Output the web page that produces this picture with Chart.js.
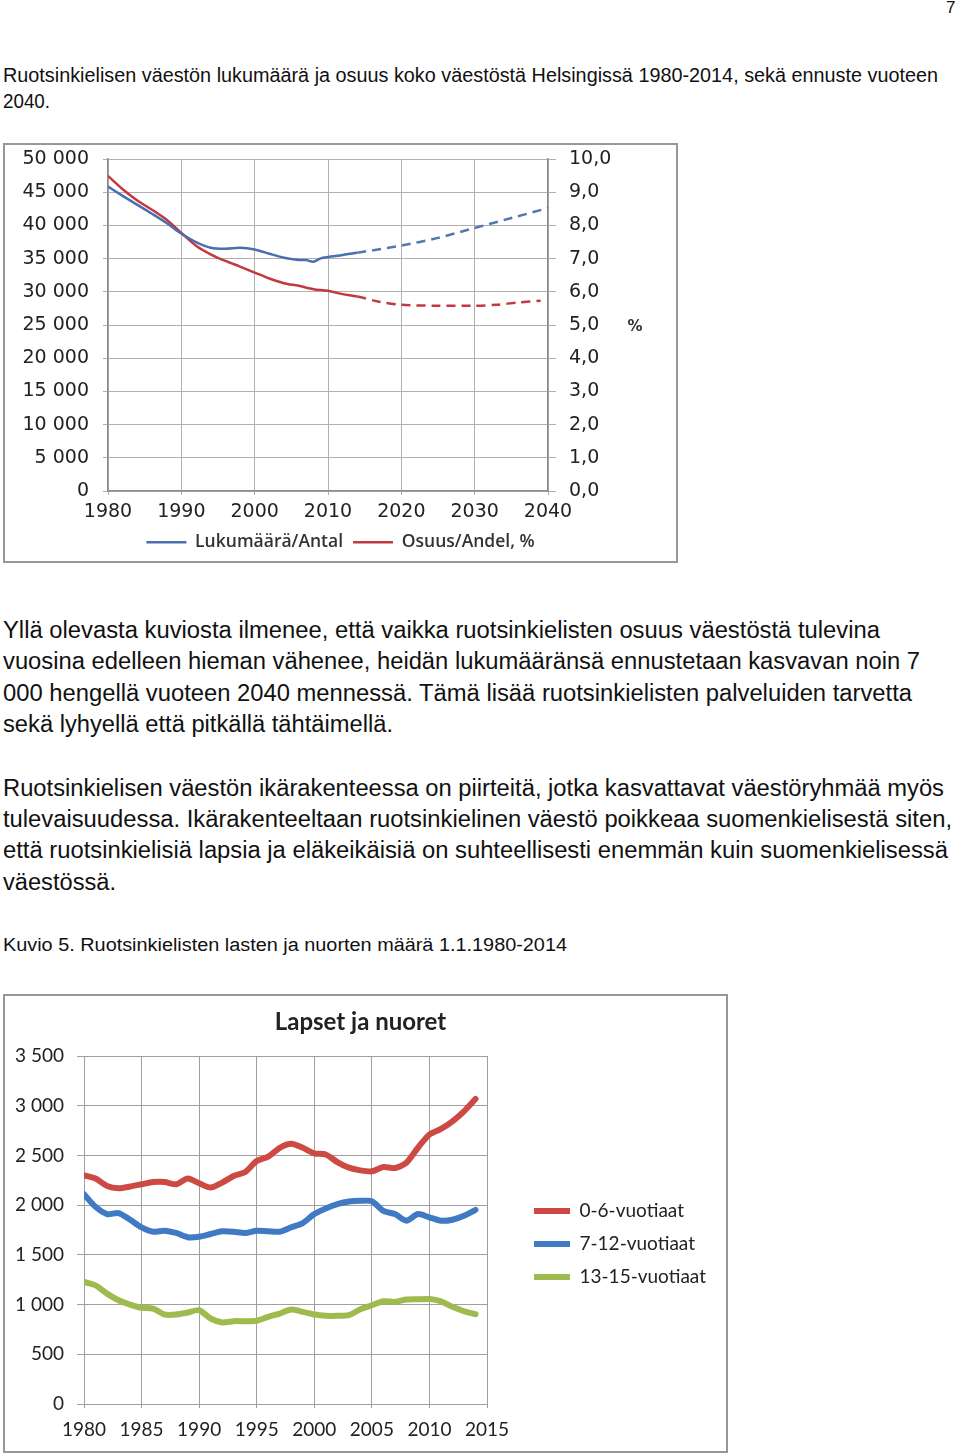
<!DOCTYPE html>
<html>
<head>
<meta charset="utf-8">
<script src="https://cdn.jsdelivr.net/npm/chart.js@4.4.1/dist/chart.umd.min.js"></script>
<style>
  body { margin: 0; background: #fff; width: 960px; height: 1455px; position: relative; overflow: hidden; }
  .t { position: absolute; left: 3px; white-space: nowrap; line-height: 1; color: #111;
       font-family: "Liberation Sans", Arial, sans-serif; transform-origin: 0 0; }
  .frame { position: absolute; border: 2px solid #979797; box-sizing: border-box; background: #fff; }
  .frame canvas { display: block; }
</style>
</head>
<body>
<div class="t" style="left:946px;top:-1px;font-size:17px">7</div>
<div class="t" data-w="935" style="top:65px;font-size:20px">Ruotsinkielisen väestön lukumäärä ja osuus koko väestöstä Helsingissä 1980-2014, sekä ennuste vuoteen</div>
<div class="t" data-w="47" style="top:91px;font-size:20px">2040.</div>

<div class="frame" style="left:3px;top:143px;width:675px;height:420px">
  <canvas id="chart1" width="671" height="416"></canvas>
</div>

<div class="t" data-w="877" style="top:619px;font-size:23px">Yllä olevasta kuviosta ilmenee, että vaikka ruotsinkielisten osuus väestöstä tulevina</div>
<div class="t" data-w="917" style="top:650px;font-size:23px">vuosina edelleen hieman vähenee, heidän lukumääränsä ennustetaan kasvavan noin 7</div>
<div class="t" data-w="909" style="top:682px;font-size:23px">000 hengellä vuoteen 2040 mennessä. Tämä lisää ruotsinkielisten palveluiden tarvetta</div>
<div class="t" data-w="390" style="top:713px;font-size:23px">sekä lyhyellä että pitkällä tähtäimellä.</div>

<div class="t" data-w="941" style="top:777px;font-size:23px">Ruotsinkielisen väestön ikärakenteessa on piirteitä, jotka kasvattavat väestöryhmää myös</div>
<div class="t" data-w="949" style="top:808px;font-size:23px">tulevaisuudessa. Ikärakenteeltaan ruotsinkielinen väestö poikkeaa suomenkielisestä siten,</div>
<div class="t" data-w="945" style="top:839px;font-size:23px">että ruotsinkielisiä lapsia ja eläkeikäisiä on suhteellisesti enemmän kuin suomenkielisessä</div>
<div class="t" data-w="113" style="top:871px;font-size:23px">väestössä.</div>

<div class="t" data-w="564" style="top:936px;font-size:18px">Kuvio 5. Ruotsinkielisten lasten ja nuorten määrä 1.1.1980-2014</div>

<div class="frame" style="left:3px;top:994px;width:725px;height:459px">
  <canvas id="chart2" width="721" height="455"></canvas>
</div>

<script>
// Chart 1: lukumäärä ja osuus 1980-2040 (ennuste 2014 jälkeen)
const lukuYears = [1980, 1982, 1984, 1986, 1988, 1990, 1992, 1994, 1996, 1998, 2000, 2002, 2004, 2006, 2007, 2008, 2009, 2010, 2012, 2014, 2020, 2025, 2030, 2035, 2040];
const lukuValues = [45850, 44450, 43100, 41760, 40360, 38770, 37470, 36630, 36480, 36630, 36380, 35730, 35130, 34780, 34780, 34530, 35030, 35230, 35530, 35880, 36970, 38120, 39620, 41110, 42610];
const osuusYears = [1980, 1982, 1984, 1986, 1988, 1990, 1992, 1994, 1996, 1998, 2000, 2002, 2004, 2006, 2008, 2010, 2012, 2014, 2017, 2020, 2025, 2030, 2033, 2036, 2039];
const osuusValues = [9.49, 9.09, 8.75, 8.47, 8.17, 7.77, 7.39, 7.13, 6.93, 6.76, 6.58, 6.40, 6.26, 6.18, 6.08, 6.03, 5.93, 5.86, 5.70, 5.61, 5.58, 5.58, 5.61, 5.68, 5.73];
const lastActual = 2014;

// Chart 2: lapset ja nuoret 1980-2014
const years2 = [1980, 1981, 1982, 1983, 1984, 1985, 1986, 1987, 1988, 1989, 1990, 1991, 1992, 1993, 1994, 1995, 1996, 1997, 1998, 1999, 2000, 2001, 2002, 2003, 2004, 2005, 2006, 2007, 2008, 2009, 2010, 2011, 2012, 2013, 2014];
const age0to6 = [2300, 2267, 2193, 2170, 2187, 2210, 2233, 2233, 2210, 2267, 2220, 2177, 2227, 2293, 2333, 2443, 2487, 2577, 2617, 2577, 2520, 2510, 2433, 2377, 2350, 2340, 2383, 2373, 2427, 2577, 2710, 2767, 2843, 2943, 3067];
const age7to12 = [2110, 1983, 1910, 1920, 1853, 1777, 1733, 1743, 1720, 1677, 1683, 1710, 1737, 1733, 1720, 1743, 1737, 1733, 1777, 1820, 1910, 1967, 2010, 2037, 2043, 2040, 1943, 1910, 1843, 1910, 1877, 1843, 1853, 1893, 1953];
const age13to15 = [1227, 1193, 1110, 1043, 1000, 967, 960, 900, 900, 920, 943, 860, 820, 833, 833, 837, 877, 910, 950, 927, 900, 887, 887, 893, 953, 993, 1033, 1027, 1050, 1053, 1055, 1033, 977, 933, 903];

const toPoints = (xs, ys) => xs.map((x, i) => ({ x: x, y: ys[i] }));
const spaced = v => String(v).replace(/\B(?=(\d{3})+(?!\d))/g, " ");

// stretch each text line to the width it has in the original page
document.querySelectorAll(".t[data-w]").forEach(el => {
  const w = el.getBoundingClientRect().width;
  el.style.transform = "scaleX(" + (Number(el.dataset.w) / w) + ")";
});

// fixed axis sizes, and no extra padding from the tick labels
const fixWidth = w => s => { s.width = w; s.paddingTop = 0; s.paddingBottom = 0; };
const fixHeight = h => s => { s.height = h; s.paddingLeft = 0; s.paddingRight = 0; };

const gridGray = "#b0b0b0";
const axisGray = "#8c8c8c";
const tickFont1 = { family: "DejaVu Sans", size: 19 };

const percentLabel = {
  id: "percentLabel",
  afterDraw(chart) {
    const ctx = chart.ctx;
    ctx.save();
    ctx.font = "bold 15px 'DejaVu Sans'";
    ctx.fillStyle = "#333";
    ctx.textAlign = "center";
    ctx.textBaseline = "middle";
    ctx.fillText("%", 630, 182);
    ctx.restore();
  },
};

const dashedAfter = ctx => (ctx.p0.parsed.x >= lastActual ? [9, 6] : undefined);

new Chart(document.getElementById("chart1"), {
  type: "line",
  data: {
    datasets: [
      {
        label: "Lukumäärä/Antal",
        data: toPoints(lukuYears, lukuValues),
        yAxisID: "y",
        borderColor: "#4a6fae",
        backgroundColor: "#4a6fae",
        borderWidth: 2.5,
        pointRadius: 0,
        tension: 0.3,
        segment: { borderDash: dashedAfter, borderColor: ctx => (ctx.p0.parsed.x >= lastActual ? "#5179ad" : undefined) },
      },
      {
        label: "Osuus/Andel, %",
        data: toPoints(osuusYears, osuusValues),
        yAxisID: "y1",
        borderColor: "#c2393f",
        backgroundColor: "#c2393f",
        borderWidth: 2.5,
        pointRadius: 0,
        tension: 0.3,
        segment: { borderDash: dashedAfter },
      },
    ],
  },
  options: {
    responsive: false,
    animation: false,
    layout: { autoPadding: false, padding: { top: 14, left: 0, right: 0, bottom: 0 } },
    plugins: {
      legend: {
        position: "bottom",
        labels: {
          usePointStyle: true,
          pointStyle: "line",
          pointStyleWidth: 40,
          padding: 10,
          color: "#333",
          font: { family: "Open Sans", size: 17.5, weight: "600" },
        },
      },
      tooltip: { enabled: false },
    },
    scales: {
      x: {
        type: "linear",
        min: 1980,
        max: 2040,
        ticks: { stepSize: 10, color: "#222", font: tickFont1, padding: 6, callback: v => String(v) },
        grid: { color: gridGray, tickLength: 4 },
        border: { color: axisGray, width: 1.5 },
        afterFit: fixHeight(32.5),
      },
      y: {
        position: "left",
        min: 0,
        max: 50000,
        ticks: { stepSize: 5000, color: "#222", font: tickFont1, padding: 14, callback: v => spaced(v) },
        grid: { color: gridGray, tickLength: 5 },
        border: { color: axisGray, width: 1.5 },
        afterFit: fixWidth(103),
      },
      y1: {
        position: "right",
        min: 0,
        max: 10,
        ticks: { stepSize: 1, color: "#222", font: tickFont1, padding: 13, callback: v => v.toFixed(1).replace(".", ",") },
        grid: { drawOnChartArea: false, color: gridGray, tickLength: 8 },
        border: { color: axisGray, width: 1.5 },
        afterFit: fixWidth(128),
      },
    },
  },
  plugins: [percentLabel],
});

const tickFont2 = { family: "Lato", size: 19 };

new Chart(document.getElementById("chart2"), {
  type: "line",
  data: {
    datasets: [
      { label: "0-6-vuotiaat", data: toPoints(years2, age0to6), borderColor: "#cd4a44", backgroundColor: "#cd4a44" },
      { label: "7-12-vuotiaat", data: toPoints(years2, age7to12), borderColor: "#4079c4", backgroundColor: "#4079c4" },
      { label: "13-15-vuotiaat", data: toPoints(years2, age13to15), borderColor: "#9dbb4e", backgroundColor: "#9dbb4e" },
    ],
  },
  options: {
    responsive: false,
    animation: false,
    datasets: { line: { borderWidth: 6, pointRadius: 0, tension: 0.25, borderCapStyle: "round", borderJoinStyle: "round" } },
    layout: { autoPadding: false, padding: { top: 12, left: 0, right: 10, bottom: 7 } },
    plugins: {
      title: {
        display: true,
        text: "Lapset ja nuoret",
        color: "#222",
        font: { family: "Lato", size: 24, weight: "bold" },
        padding: { top: 0, bottom: 19.2 },
      },
      legend: {
        position: "right",
        align: "start",
        maxWidth: 260,
        title: { display: true, text: "", padding: { top: 165, bottom: 0 } },
        labels: {
          usePointStyle: true,
          pointStyle: "line",
          pointStyleWidth: 36,
          padding: 14,
          color: "#222",
          font: { family: "Lato", size: 19 },
        },
      },
      tooltip: { enabled: false },
    },
    scales: {
      x: {
        type: "linear",
        min: 1980,
        max: 2015,
        ticks: { stepSize: 5, color: "#222", font: tickFont2, padding: 10, callback: v => String(v) },
        grid: { color: "#a0a0a0", tickLength: 4 },
        border: { color: "#a0a0a0" },
        afterFit: fixHeight(40),
      },
      y: {
        min: 0,
        max: 3500,
        ticks: { stepSize: 500, color: "#222", font: tickFont2, padding: 13, callback: v => spaced(v) },
        grid: { color: "#a0a0a0", tickLength: 7 },
        border: { color: "#a0a0a0" },
        afterFit: fixWidth(79),
      },
      gap: {
        position: "right",
        display: true,
        ticks: { display: false },
        grid: { display: false },
        border: { display: false },
        afterFit: s => {
          const legendW = s.chart.legend ? s.chart.legend.width : 0;
          const padR = s.chart.options.layout.padding.right || 0;
          s.width = Math.max(0, s.chart.width - 482 - legendW - padR);
        },
      },
    },
  },
});
</script>
</body>
</html>
